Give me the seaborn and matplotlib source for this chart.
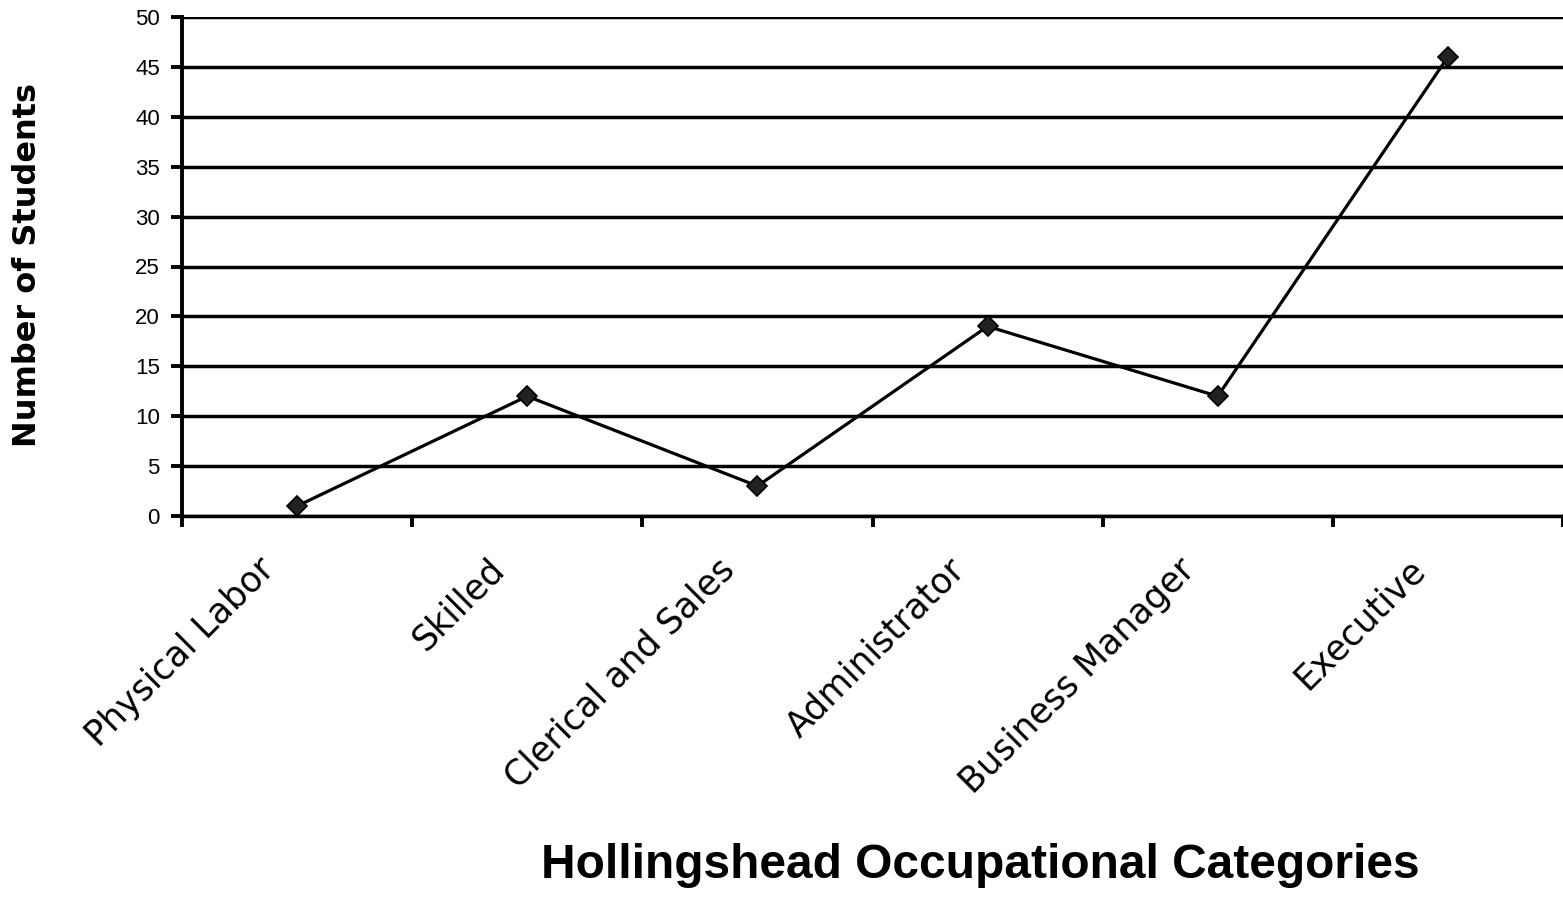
import matplotlib
matplotlib.use("Agg")
import matplotlib.pyplot as plt
import matplotlib.transforms as mtrans
import seaborn as sns
import pandas as pd
import numpy as np

categories = ["Physical Labor", "Skilled", "Clerical and Sales",
              "Administrator", "Business Manager", "Executive"]
students = [1, 12, 3, 19, 12, 46]
y_ticks = [0, 5, 10, 15, 20, 25, 30, 35, 40, 45, 50]

df = pd.DataFrame({"pos": np.arange(len(categories)), "students": students})

sns.set_theme(style="white")
plt.rcParams["font.family"] = ["Liberation Sans", "DejaVu Sans"]
plt.rcParams["text.color"] = "black"
plt.rcParams["xtick.color"] = "black"
plt.rcParams["ytick.color"] = "black"
plt.rcParams["xtick.labelcolor"] = "black"
plt.rcParams["ytick.labelcolor"] = "black"

fig = plt.figure(figsize=(15.63, 8.98), dpi=100)
ax = fig.add_axes([182/1563, 1-516/898, 1-182/1563, (516-17)/898])

for v in y_ticks:
    ax.axhline(v, color="black", lw=2.5, zorder=1)

sns.lineplot(data=df, x="pos", y="students", ax=ax, color="black", lw=2.3,
             marker="D", markersize=10, markerfacecolor="#222222",
             markeredgecolor="black", markeredgewidth=1.2, sort=False, zorder=3)

ax.set_xlim(-0.5, len(categories) - 0.5)
ax.set_ylim(0, 50)
ax.set_yticks(y_ticks)
ax.set_yticklabels([str(v) for v in y_ticks], fontsize=16, color="black")

ax.set_xticks(np.arange(len(categories) + 1) - 0.5)
ax.set_xticklabels([])
ax.set_xticks(np.arange(len(categories)), minor=True)
ax.set_xticklabels(categories, minor=True, rotation=45, ha="right",
                   va="top", rotation_mode="anchor", fontsize=25,
                   family=["DejaVu Sans"], color="black")
ax.tick_params(axis="x", which="major", direction="out", length=8, width=2.8,
               color="black", bottom=True)
ax.tick_params(axis="x", which="minor", length=0, pad=26)
ax.tick_params(axis="y", direction="out", length=8, width=2.8, color="black",
               left=True, pad=8)
offset = mtrans.ScaledTranslation(-40/100, 0, fig.dpi_scale_trans)
for lab in ax.xaxis.get_minorticklabels():
    lab.set_transform(lab.get_transform() + offset)

for s in ["top", "right"]:
    ax.spines[s].set_visible(False)
ax.spines["left"].set_linewidth(2.8)
ax.spines["left"].set_color("black")
ax.spines["bottom"].set_linewidth(2.5)
ax.spines["bottom"].set_color("black")

ax.set_xlabel("")
ax.set_ylabel("")
fig.text(28/1563, 1-265/898, "Number of Students", rotation=90,
         ha="center", va="center", fontsize=23, fontweight="bold",
         family=["DejaVu Sans"], color="black")
fig.text(980/1563, 1-866/898, "Hollingshead Occupational Categories",
         ha="center", va="center", fontsize=34.5, fontweight="bold",
         family=["Liberation Sans Narrow", "Liberation Sans"], color="black")

fig.savefig("out.png", dpi=100)
